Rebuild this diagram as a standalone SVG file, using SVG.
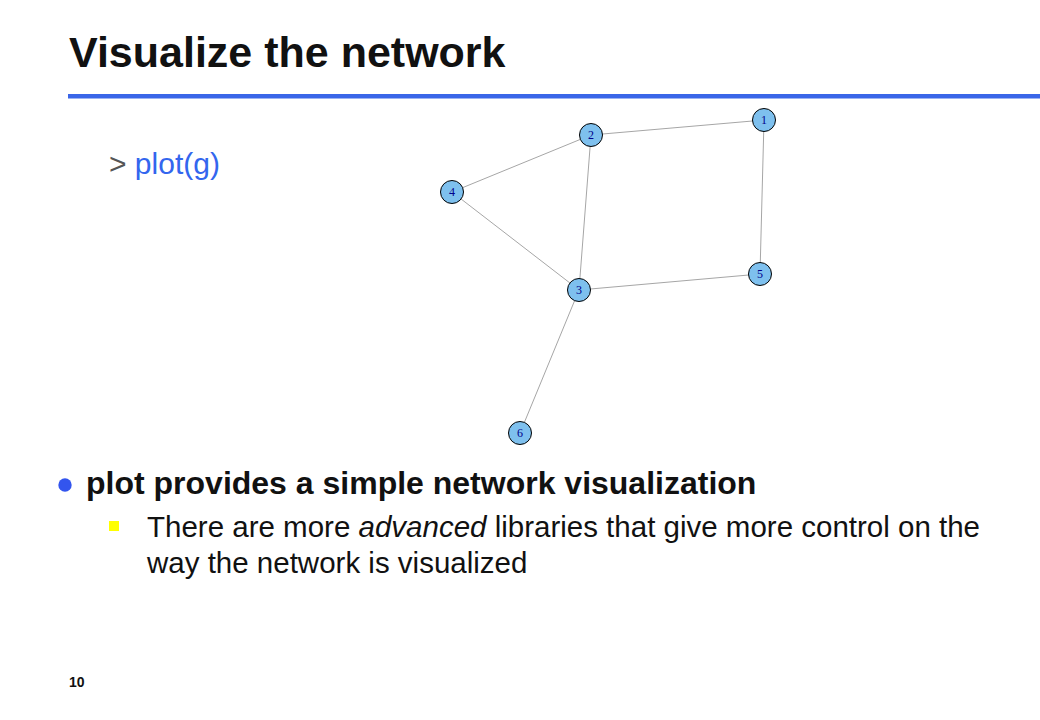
<svg xmlns="http://www.w3.org/2000/svg" width="1040" height="720" viewBox="0 0 1040 720">
<style>
.edge{stroke:#a6a6a6;stroke-width:1;fill:none}
.node circle{fill:#7ec0ee;stroke:#000;stroke-width:1}
.node text{font-family:"Liberation Serif","DejaVu Serif",serif;font-size:12px;fill:#00008b;text-anchor:middle}
.sans{font-family:"Liberation Sans",Arial,sans-serif}
</style>
<rect width="1040" height="720" fill="#fff"/>
<text class="sans" x="69" y="67" font-size="43" font-weight="bold" fill="#111">Visualize the network</text>
<rect x="68" y="94" width="972" height="4.5" fill="#3a66e8"/>
<text class="sans" x="109" y="174" font-size="30"><tspan fill="#555">&gt; </tspan><tspan fill="#3366ee">plot(g)</tspan></text>
<g id="connectors">
<line class="edge" x1="764" y1="120" x2="591" y2="135"/>
<line class="edge" x1="764" y1="120" x2="760" y2="274"/>
<line class="edge" x1="591" y1="135" x2="452" y2="192"/>
<line class="edge" x1="591" y1="135" x2="579" y2="290"/>
<line class="edge" x1="452" y1="192" x2="579" y2="290"/>
<line class="edge" x1="579" y1="290" x2="760" y2="274"/>
<line class="edge" x1="579" y1="290" x2="520" y2="433"/>
</g>
<g id="node1" class="node"><circle cx="764" cy="120" r="11.5"/><text x="764" y="124">1</text></g>
<g id="node2" class="node"><circle cx="591" cy="135" r="11.5"/><text x="591" y="139">2</text></g>
<g id="node3" class="node"><circle cx="579" cy="290" r="11.5"/><text x="579" y="294">3</text></g>
<g id="node4" class="node"><circle cx="452" cy="192" r="11.5"/><text x="452" y="196">4</text></g>
<g id="node5" class="node"><circle cx="760" cy="274" r="11.5"/><text x="760" y="278">5</text></g>
<g id="node6" class="node"><circle cx="520" cy="433" r="11.5"/><text x="520" y="437">6</text></g>
<circle cx="65" cy="485" r="6.7" fill="#3355ee"/>
<text class="sans" x="86" y="494" font-size="32" font-weight="bold" fill="#111">plot provides a simple network visualization</text>
<rect x="109" y="521" width="10" height="10" fill="#ffff00"/>
<text class="sans" x="147" y="537" font-size="29.5" fill="#111">There are more <tspan font-style="italic">advanced</tspan> libraries that give more control on the</text>
<text class="sans" x="147" y="573" font-size="29.5" fill="#111">way the network is visualized</text>
<text class="sans" x="69" y="687" font-size="14" font-weight="bold" fill="#111">10</text>
</svg>
